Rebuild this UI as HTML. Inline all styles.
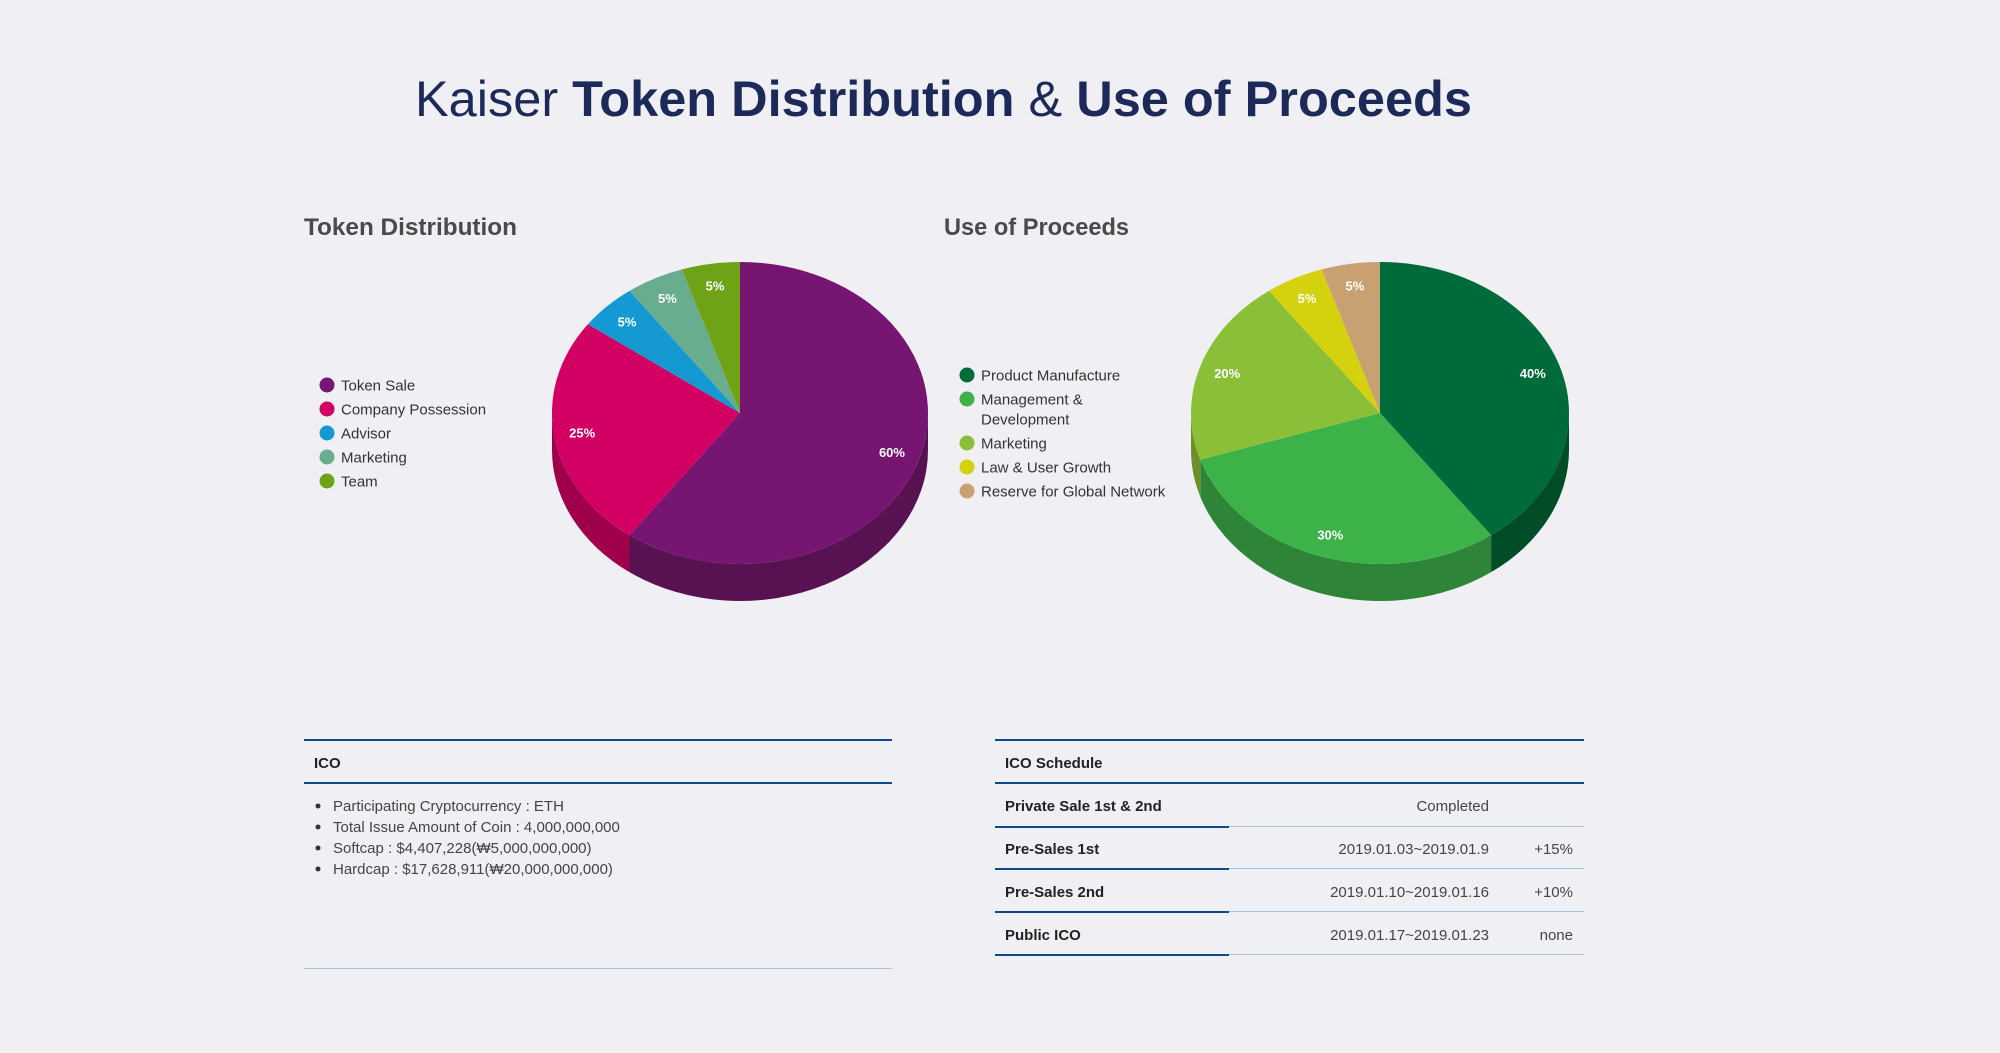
<!DOCTYPE html>
<html><head><meta charset="utf-8"><style>
html,body{margin:0;padding:0;background:#f0f0f4;}
svg{display:block;font-family:"Liberation Sans","NanumGothic",sans-serif;}
</style></head><body>
<svg id="root" width="2000" height="1053" viewBox="0 0 2000 1053">
<rect x="0" y="0" width="2000" height="1053" fill="#f0f0f4"/>
<text x="415" y="116" font-size="50" fill="#1c2a5a" textLength="1057" lengthAdjust="spacingAndGlyphs"><tspan font-weight="300">Kaiser </tspan><tspan font-weight="bold">Token Distribution</tspan><tspan> &amp; </tspan><tspan font-weight="bold">Use of Proceeds</tspan></text>

<text x="304" y="235" font-size="24" font-weight="bold" fill="#4a4a4a" textLength="213" lengthAdjust="spacingAndGlyphs">Token Distribution</text>
<text x="944" y="235" font-size="24" font-weight="bold" fill="#4a4a4a" textLength="185" lengthAdjust="spacingAndGlyphs">Use of Proceeds</text>

<g id="pie1"></g>
<g id="pie2"></g>
<g id="legend1"></g>
<g id="legend2"></g>

<!-- ICO box -->
<g>
<rect x="304" y="739" width="588" height="2" fill="#0b4a8b"/>
<text x="314" y="768" font-size="15" font-weight="bold" fill="#222">ICO</text>
<rect x="304" y="782" width="588" height="2" fill="#0b4a8b"/>
<g font-size="15" fill="#444">
<circle cx="318" cy="806" r="2.5" fill="#333"/>
<text x="333" y="811">Participating Cryptocurrency : ETH</text>
<circle cx="318" cy="827" r="2.5" fill="#333"/>
<text x="333" y="832">Total Issue Amount of Coin : 4,000,000,000</text>
<circle cx="318" cy="848" r="2.5" fill="#333"/>
<text x="333" y="853">Softcap : $4,407,228(₩5,000,000,000)</text>
<circle cx="318" cy="869" r="2.5" fill="#333"/>
<text x="333" y="874">Hardcap : $17,628,911(₩20,000,000,000)</text>
</g>
<rect x="304" y="968" width="588" height="1" fill="#a8c0d8"/>
</g>

<!-- ICO schedule -->
<g font-size="15">
<rect x="995" y="739" width="589" height="2" fill="#0b4a8b"/>
<text x="1005" y="768" font-weight="bold" fill="#222">ICO Schedule</text>
<rect x="995" y="782" width="589" height="2" fill="#0b4a8b"/>

<g>
<text x="1005" y="811" font-weight="bold" fill="#222">Private Sale 1st &amp; 2nd</text>
<text x="1489" y="811" text-anchor="end" fill="#444">Completed</text>
<rect x="995" y="826" width="234" height="2" fill="#0b4a8b"/>
<rect x="1229" y="826" width="355" height="1" fill="#a8c0d8"/>
</g>
<g>
<text x="1005" y="854" font-weight="bold" fill="#222">Pre-Sales 1st</text>
<text x="1489" y="854" text-anchor="end" fill="#444">2019.01.03~2019.01.9</text>
<text x="1573" y="854" text-anchor="end" fill="#444">+15%</text>
<rect x="995" y="868" width="234" height="2" fill="#0b4a8b"/>
<rect x="1229" y="868" width="355" height="1" fill="#a8c0d8"/>
</g>
<g>
<text x="1005" y="897" font-weight="bold" fill="#222">Pre-Sales 2nd</text>
<text x="1489" y="897" text-anchor="end" fill="#444">2019.01.10~2019.01.16</text>
<text x="1573" y="897" text-anchor="end" fill="#444">+10%</text>
<rect x="995" y="911" width="234" height="2" fill="#0b4a8b"/>
<rect x="1229" y="911" width="355" height="1" fill="#a8c0d8"/>
</g>
<g>
<text x="1005" y="940" font-weight="bold" fill="#222">Public ICO</text>
<text x="1489" y="940" text-anchor="end" fill="#444">2019.01.17~2019.01.23</text>
<text x="1573" y="940" text-anchor="end" fill="#444">none</text>
<rect x="995" y="954" width="234" height="2" fill="#0b4a8b"/>
<rect x="1229" y="954" width="355" height="1" fill="#a8c0d8"/>
</g>
</g>
</svg>
<script>
const tokenCategories = ["Token Sale","Company Possession","Advisor","Marketing","Team"];
const tokenValues = [60,25,5,5,5];
const tokenColors = ["#761572","#d10062","#1499d3","#68ad8e","#6fa317"];
const tokenSideColors = ["#581252","#a0004a","#0f76a4","#4f8a6f","#55800f"];

const proceedsCategories = ["Product Manufacture","Management & Development","Marketing","Law & User Growth","Reserve for Global Network"];
const proceedsValues = [40,30,20,5,5];
const proceedsColors = ["#006b3a","#3db249","#8abf37","#d4d10f","#c9a072"];
const proceedsSideColors = ["#004d28","#2e8537","#6f8f2a","#a8a50a","#a07e58"];

const NS = "http://www.w3.org/2000/svg";
function mk(tag, attrs, parent){
  const e = document.createElementNS(NS, tag);
  for (const k in attrs) e.setAttribute(k, attrs[k]);
  parent.appendChild(e);
  return e;
}
function drawPie(g, values, colors, sides, cx, cy, rx, ry, depth, slug){
  const total = values.reduce((a,b)=>a+b,0);
  const P = (a,dy)=>[cx+rx*Math.sin(a), cy-ry*Math.cos(a)+(dy||0)];
  let acc = 0;
  const spans = values.map(v=>{const a1=acc/total*2*Math.PI; acc+=v; return [a1, acc/total*2*Math.PI];});
  // side walls (front half: angles PI/2..3PI/2)
  spans.forEach((s,i)=>{
    const b1 = Math.max(s[0], Math.PI/2), b2 = Math.min(s[1], 1.5*Math.PI);
    if (b2 <= b1) return;
    const p1=P(b1), p2=P(b2), q2=P(b2,depth), q1=P(b1,depth);
    const w = mk("path",{d:`M${p1[0]},${p1[1]} A${rx},${ry} 0 0 1 ${p2[0]},${p2[1]} L${q2[0]},${q2[1]} A${rx},${ry} 0 0 0 ${q1[0]},${q1[1]} Z`, fill:sides[i]}, g);
    
    
  });
  spans.forEach((s,i)=>{
    const p1=P(s[0]), p2=P(s[1]);
    const large = (s[1]-s[0])>Math.PI?1:0;
    const sl = mk("path",{d:`M${cx},${cy} L${p1[0]},${p1[1]} A${rx},${ry} 0 ${large} 1 ${p2[0]},${p2[1]} Z`, fill:colors[i]}, g);
    
    
  });
  spans.forEach((s,i)=>{
    const m=(s[0]+s[1])/2;
    const x=cx+rx*0.85*Math.sin(m), y=cy-ry*0.85*Math.cos(m);
    const t = mk("text",{x:x,y:y+4.5,"text-anchor":"middle","font-size":"13","font-weight":"bold",fill:"#fff"}, g);
    t.textContent = Math.round(values[i]/total*100)+"%";
    
    
  });
}
function drawLegend(g, cats, colors, cx, tx, y0, slug, wrapAt){
  let y=y0;
  cats.forEach((c,i)=>{
    const dot = mk("circle",{cx:cx,cy:y,r:7.5,fill:colors[i]},g);
    
    
    const t = mk("text",{x:tx,y:y+5.5,"font-size":"15","fill":"#333"},g);
    
    
    if (wrapAt && c.length>wrapAt && c.indexOf(" & ")>0){
      const parts=[c.slice(0,c.indexOf(" & ")+2), c.slice(c.indexOf(" & ")+3)];
      const s1=mk("tspan",{x:tx},t); s1.textContent=parts[0];
      const s2=mk("tspan",{x:tx,dy:20},t); s2.textContent=parts[1];
      y+=44;
    } else { t.textContent=c; y+=24; }
  });
}
drawPie(document.getElementById("pie1"), tokenValues, tokenColors, tokenSideColors, 740, 413, 188, 151, 37, "token");
drawPie(document.getElementById("pie2"), proceedsValues, proceedsColors, proceedsSideColors, 1380, 413, 189, 151, 37, "proceeds");
drawLegend(document.getElementById("legend1"), tokenCategories, tokenColors, 327, 341, 385, "token", 0);
drawLegend(document.getElementById("legend2"), proceedsCategories, proceedsColors, 967, 981, 375, "proceeds", 20);
</script>
</body></html>
